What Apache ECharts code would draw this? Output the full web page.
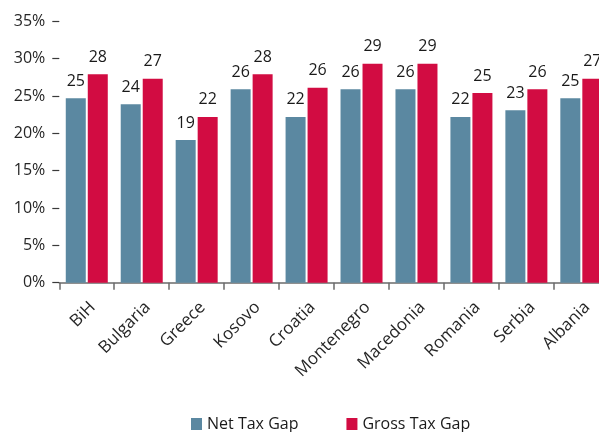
<!DOCTYPE html>
<html>
<head>
<meta charset="utf-8">
<script src="https://cdn.jsdelivr.net/npm/echarts@6/dist/echarts.min.js"></script>
<style>
html,body{margin:0;padding:0;background:#fff;}
#chart{width:599px;height:432px;}
</style>
</head>
<body>
<div id="chart"></div>
<script>
const categories = ["BiH","Bulgaria","Greece","Kosovo","Croatia","Montenegro","Macedonia","Romania","Serbia","Albania"];
const netTaxGap = [24.7, 23.9, 19.1, 25.9, 22.2, 25.9, 25.9, 22.2, 23.1, 24.7];
const grossTaxGap = [27.9, 27.3, 22.2, 27.9, 26.1, 29.3, 29.3, 25.4, 25.9, 27.3];
const yTicks = [0, 5, 10, 15, 20, 25, 30, 35];

const FONT = "Open Sans";
const chart = echarts.init(document.getElementById('chart'), null, {renderer: 'canvas'});
const labelCfg = {
  show: true, position: 'top', distance: 9,
  color: '#1a1a1a', fontSize: 16, fontFamily: FONT,
  formatter: p => Math.round(p.value)
};
chart.setOption({
  animation: false,
  textStyle: {fontFamily: FONT},
  grid: {left: 59.3, width: 549.5, top: 21.3, bottom: 149.3, containLabel: false, outerBoundsMode: 'none'},
  legend: {
    data: ['Net Tax Gap', 'Gross Tax Gap'],
    left: 191, top: 416, padding: 0,
    itemWidth: 11, itemHeight: 12, itemGap: 48,
    icon: 'rect',
    textStyle: {fontSize: 16, color: '#1a1a1a', fontFamily: FONT}
  },
  xAxis: {
    type: 'category',
    data: categories,
    axisLine: {lineStyle: {color: '#6b6b6b', width: 1.5}},
    axisTick: {show: true, length: 7, lineStyle: {color: '#6b6b6b', width: 1.5}},
    axisLabel: {rotate: 45, margin: 16, fontSize: 17, color: '#262626', fontFamily: FONT,
                interval: 0, verticalAlign: 'top'}
  },
  yAxis: {
    type: 'value',
    min: yTicks[0], max: yTicks[yTicks.length - 1], interval: 5,
    axisLine: {show: false},
    axisTick: {show: true, length: 7, lineStyle: {color: '#3a3a3a', width: 1.2}},
    splitLine: {show: false},
    axisLabel: {margin: 14, fontSize: 16, color: '#262626', fontFamily: FONT, formatter: v => v + '%'}
  },
  series: [
    {name: 'Net Tax Gap', type: 'bar', data: netTaxGap, barWidth: 20, barGap: '10%',
     itemStyle: {color: '#5b88a1'}, label: labelCfg},
    {name: 'Gross Tax Gap', type: 'bar', data: grossTaxGap, barWidth: 20,
     itemStyle: {color: '#d20c42'}, label: labelCfg}
  ]
});
</script>
</body>
</html>
